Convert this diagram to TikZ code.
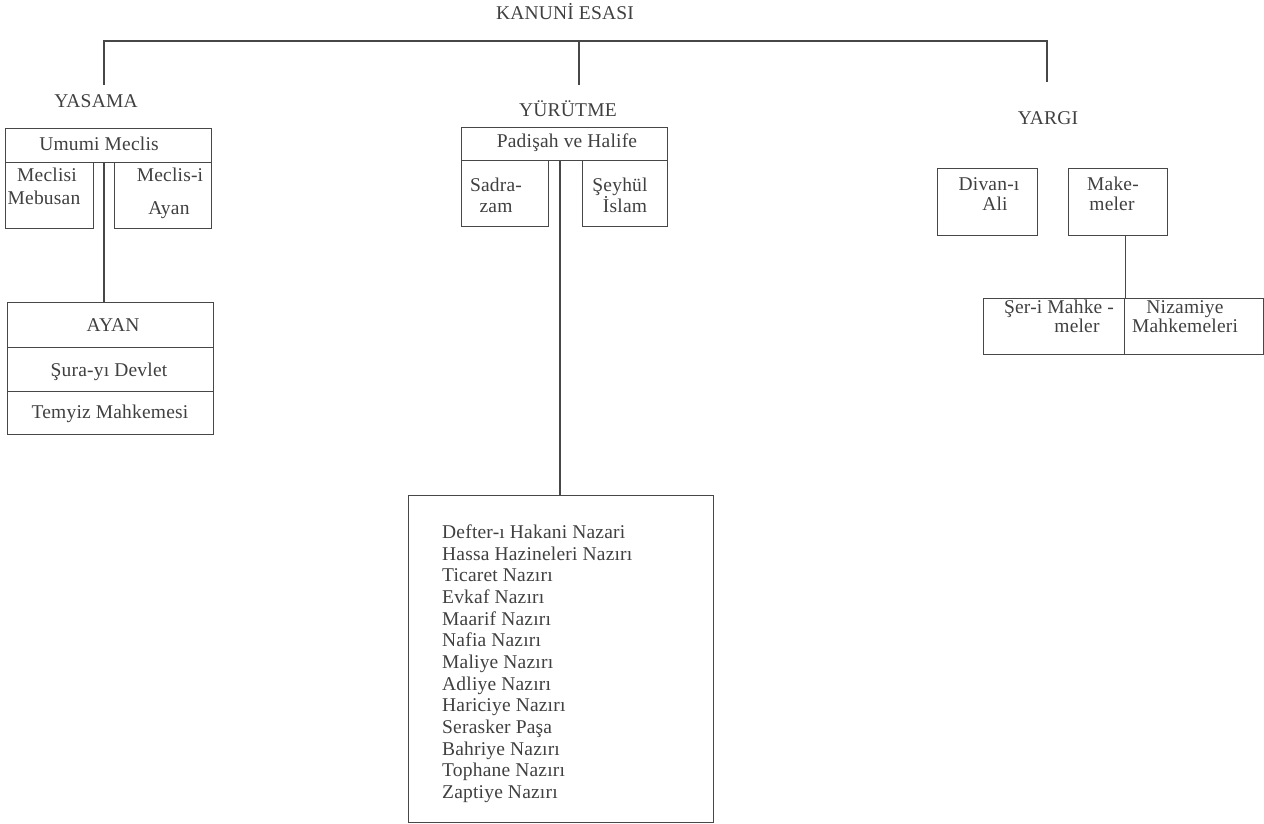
\documentclass[tikz,border=0pt]{standalone}
\usepackage{fontspec}
\setmainfont{Liberation Serif}[LetterSpace=1]
\begin{document}
\definecolor{linec}{gray}{0.28}
\definecolor{textc}{gray}{0.25}
\begin{tikzpicture}[x=1pt,y=-1pt,
  cell/.style 2 args={draw=linec, line width=1.2pt, inner sep=0pt,
    minimum width=#1, minimum height=#2, anchor=north west},
  lbl/.style={text=textc, inner sep=0pt, text height=13pt, text depth=4pt,
    font=\fontsize{19.5}{21.7}\selectfont},
  conn/.style={draw=linec, line width=1.2pt}]
\useasboundingbox (0,0) rectangle (1264,824);

% heading and branch labels
\node[lbl] (kanuni) at (565,15) {KANUNİ ESASI};
\node[lbl] (yasama) at (96,103) {YASAMA};
\node[lbl] (yurutme) at (568,112) {YÜRÜTME};
\node[lbl] (yargi) at (1048,120) {YARGI};

% branch connector
\coordinate (dropL) at (104,85);
\coordinate (dropM) at (579,85);
\coordinate (dropR) at (1047,82);
\coordinate (topL) at (104,41);
\coordinate (topM) at (579,41);
\coordinate (topR) at (1047,41);
\draw[conn] (dropL) -- (topL) -- (topR) -- (dropR);
\draw[conn] (topM) -- (dropM);

% legislature
\node[cell={206pt}{34pt}] (um) at (5,128) {};
\node[cell={88pt}{66pt}] (meb) at (5,162) {};
\node[cell={97pt}{66pt}] (ayanm) at (114,162) {};
\node[cell={206pt}{45pt}] (ayan) at (7,302) {};
\node[cell={206pt}{44pt}] (sura) at (7,347) {};
\node[cell={206pt}{43pt}] (temyiz) at (7,391) {};
\coordinate (lx) at (104,0);
\draw[conn] (um.south -| lx) -- (ayan.north -| lx);

\node[lbl] (t-um) at (99,146) {Umumi Meclis};
\node[lbl] (t-meb1) at (47,177) {Meclisi};
\node[lbl] (t-meb2) at (44,200) {Mebusan};
\node[lbl] (t-aym1) at (170,177) {Meclis-i};
\node[lbl] (t-aym2) at (169,210) {Ayan};
\node[lbl] (t-ayan) at (113,327) {AYAN};
\node[lbl] (t-sura) at (109,372) {Şura-yı Devlet};
\node[lbl] (t-temyiz) at (110,414) {Temyiz Mahkemesi};

% executive
\node[cell={206pt}{33pt}] (pad) at (461,127) {};
\node[cell={87pt}{66pt}] (sadr) at (461,160) {};
\node[cell={85pt}{66pt}] (seyh) at (582,160) {};
\node[cell={305pt}{327pt}] (naz) at (408,495) {};
\coordinate (mx) at (560,0);
\draw[conn] (pad.south -| mx) -- (naz.north -| mx);

\node[lbl] (t-pad) at (567,143) {Padişah ve Halife};
\node[lbl] (t-sadr1) at (496,187) {Sadra-};
\node[lbl] (t-sadr2) at (496,208) {zam};
\node[lbl] (t-seyh1) at (620,187) {Şeyhül};
\node[lbl] (t-seyh2) at (625,208) {İslam};

\foreach \t [count=\i from 0] in {Defter-ı Hakani Nazari, Hassa Hazineleri Nazırı,
  Ticaret Nazırı, Evkaf Nazırı, Maarif Nazırı, Nafia Nazırı, Maliye Nazırı,
  Adliye Nazırı, Hariciye Nazırı, Serasker Paşa, Bahriye Nazırı,
  Tophane Nazırı, Zaptiye Nazırı}
  \node[lbl, anchor=west] (nz\i) at (442,534+21.67*\i) {\t};

% judiciary
\node[cell={100pt}{67pt}] (divan) at (937,168) {};
\node[cell={99pt}{67pt}] (mak) at (1068,168) {};
\node[cell={141pt}{56pt}] (ser) at (983,298) {};
\node[cell={139pt}{56pt}] (niz) at (1124,298) {};
\draw[conn] (mak.south -| ser.north east) -- (ser.north east);

\node[lbl] (t-div1) at (989,186) {Divan-ı};
\node[lbl] (t-div2) at (995,206) {Ali};
\node[lbl] (t-mak1) at (1113,186) {Make-};
\node[lbl] (t-mak2) at (1112,206) {meler};
\node[lbl] (t-ser1) at (1059,309) {Şer-i Mahke -};
\node[lbl] (t-ser2) at (1077,328) {meler};
\node[lbl] (t-niz1) at (1185,309) {Nizamiye};
\node[lbl] (t-niz2) at (1185,328) {Mahkemeleri};
\end{tikzpicture}
\end{document}
